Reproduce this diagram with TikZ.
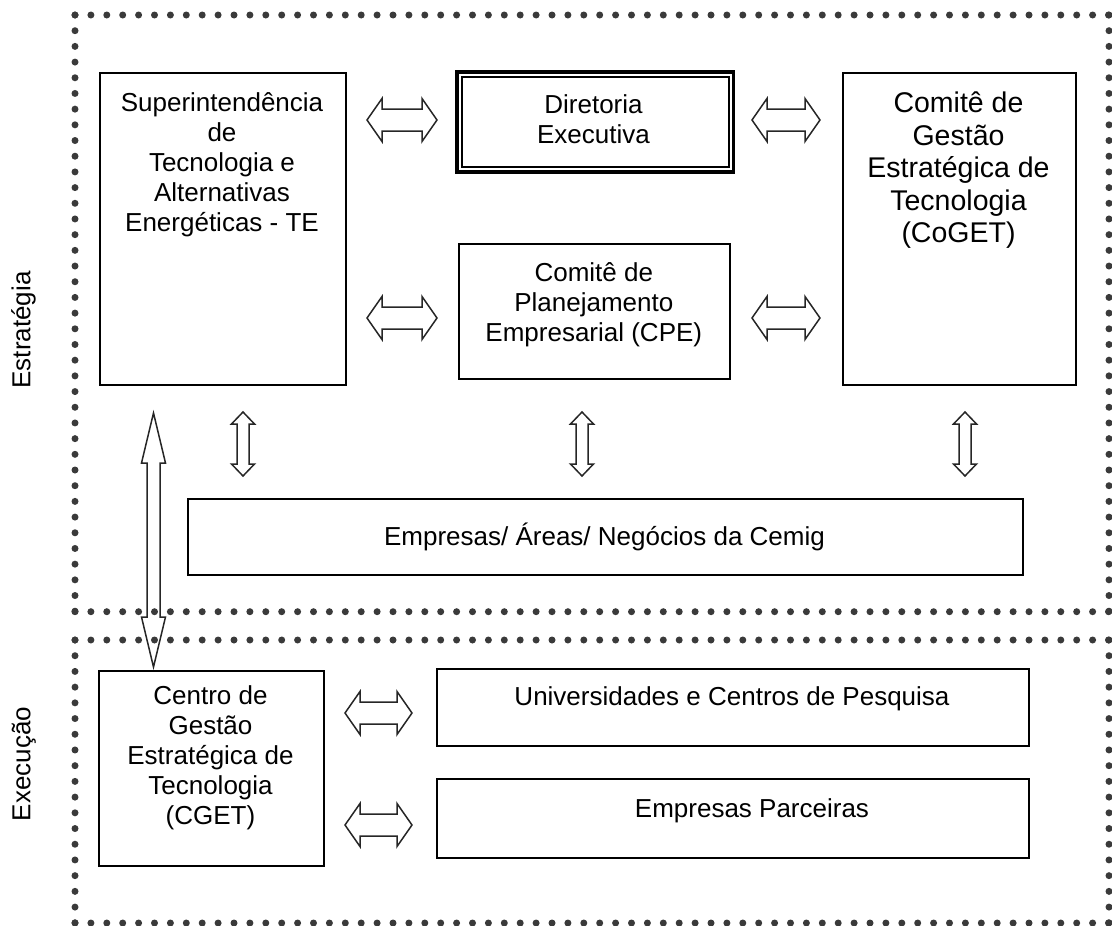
\documentclass[tikz,border=0pt]{standalone}
\usepackage{fontspec}
\setmainfont{Liberation Sans}
\usetikzlibrary{calc}
\definecolor{dotgray}{HTML}{3A3A3A}
\definecolor{arrowgray}{HTML}{262626}

\tikzset{
  box/.style={draw=black, line width=2pt, rectangle, inner sep=0pt, anchor=north west},
  txt/.style={align=center, inner sep=0pt, font=\fontsize{26}{30}\selectfont},
  bigtxt/.style={align=center, inner sep=0pt, font=\fontsize{28.5}{32.5}\selectfont},
  blockarrow/.style={draw=arrowgray, line width=1.5pt, line join=miter},
  dots/.style={draw=dotgray, line width=7pt, line cap=round, dash pattern=on 0pt off #1},
}

% vertical double block arrow: centre, half length, head length, half head width, half shaft width
\newcommand\vblock[5]{%
  \draw[blockarrow] ($(#1)+(0,-#2)$) -- ($(#1)+(#4,-#2+#3)$) -- ($(#1)+(#5,-#2+#3)$)
    -- ($(#1)+(#5,#2-#3)$) -- ($(#1)+(#4,#2-#3)$) -- ($(#1)+(0,#2)$)
    -- ($(#1)+(-#4,#2-#3)$) -- ($(#1)+(-#5,#2-#3)$) -- ($(#1)+(-#5,-#2+#3)$)
    -- ($(#1)+(-#4,-#2+#3)$) -- cycle;}
% horizontal double block arrow: same parameters, lying on its side
\newcommand\hblock[5]{%
  \draw[blockarrow] ($(#1)+(-#2,0)$) -- ($(#1)+(-#2+#3,-#4)$) -- ($(#1)+(-#2+#3,-#5)$)
    -- ($(#1)+(#2-#3,-#5)$) -- ($(#1)+(#2-#3,-#4)$) -- ($(#1)+(#2,0)$)
    -- ($(#1)+(#2-#3,#4)$) -- ($(#1)+(#2-#3,#5)$) -- ($(#1)+(-#2+#3,#5)$)
    -- ($(#1)+(-#2+#3,#4)$) -- cycle;}

\begin{document}
\begin{tikzpicture}[x=1pt, y=-1pt]
\useasboundingbox (0,0) rectangle (1112,926);

% dotted frames: strategy level (top) and execution level (bottom)
\draw[dots=15.9]  (75,15) -- (1109,15);
\draw[dots=15.9]  (75,611.7) -- (1109,611.7);
\draw[dots=15.69] (75,15) -- (75,611.7);
\draw[dots=15.69] (1109,15) -- (1109,611.7);
\draw[dots=15.9]  (75,640) -- (1109,640);
\draw[dots=15.9]  (75,923) -- (1109,923);
\draw[dots=15.71] (75,640) -- (75,923);
\draw[dots=15.71] (1109,640) -- (1109,923);

% side labels
\node[txt, rotate=90, anchor=base] (lblE) at (30.5,330) {Estratégia};
\node[txt, rotate=90, anchor=base] (lblX) at (30.5,764) {Execução};

% strategy boxes
\node[box, minimum width=246pt, minimum height=312pt] (sup) at (99,72) {};
\node[txt, anchor=north] (suptxt) at (222,92) {Superintendência\\de\\Tecnologia e\\Alternativas\\Energéticas - TE};

\node[box, line width=3.5pt, minimum width=276.5pt, minimum height=100pt] (dir) at (455.3,70) {};
\draw[line width=2pt] ($(dir.north west)+(6.5,6.5)$) rectangle ($(dir.south east)+(-6.5,-6.5)$);
\node[txt, anchor=north] (dirtxt) at (593.5,94) {Diretoria\\Executiva};

\node[box, minimum width=271pt, minimum height=135.3pt] (cpe) at (458.3,242.7) {};
\node[txt, anchor=north] (cpetxt) at (593.8,262) {Comitê de\\Planejamento\\Empresarial (CPE)};

\node[box, minimum width=233pt, minimum height=312pt] (coget) at (842,72) {};
\node[bigtxt, anchor=north] (cogettxt) at (958.5,92) {Comitê de\\Gestão\\Estratégica de\\Tecnologia\\(CoGET)};

\node[box, minimum width=835pt, minimum height=76pt] (emp) at (187,498) {};
\node[txt, anchor=base] (emptxt) at (604.5,545.3) {Empresas/ Áreas/ Negócios da Cemig};

% execution boxes
\node[box, minimum width=225pt, minimum height=195pt] (cget) at (98,670) {};
\node[txt, anchor=north] (cgettxt) at (210.5,685) {Centro de\\Gestão\\Estratégica de\\Tecnologia\\(CGET)};

\node[box, minimum width=592pt, minimum height=77pt] (uni) at (436,668) {};
\node[txt, anchor=base] (unitxt) at (732,705.3) {Universidades e Centros de Pesquisa};

\node[box, minimum width=592pt, minimum height=79pt] (parc) at (436,778) {};
\node[txt, anchor=base] (parctxt) at (752,817.3) {Empresas Parceiras};

% arrow centres between the boxes
\coordinate (aSD) at (402,120);
\coordinate (aDC) at (786,120);
\coordinate (aSP) at (402,318);
\coordinate (aPC) at (786,318);
\coordinate (vS) at (243,444);
\coordinate (vP) at (582,444);
\coordinate (vC) at (965,444);
\coordinate (aGU) at (378.5,713);
\coordinate (aGP) at (378.5,825);
\coordinate (longTop) at (153.5,413);
\coordinate (longBot) at (153.5,667);
\coordinate (longMid) at ($(longTop)!0.5!(longBot)$);

\hblock{aSD}{35}{15}{21.5}{11}
\hblock{aDC}{34}{15}{21.5}{11}
\hblock{aSP}{35}{15}{21.5}{11}
\hblock{aPC}{34}{15}{21.5}{11}
\vblock{vS}{32}{12}{11.5}{6}
\vblock{vP}{32}{12}{11.5}{6}
\vblock{vC}{32}{12}{11.5}{6}
\hblock{aGU}{33.5}{15}{21.5}{11}
\hblock{aGP}{33.5}{15}{21.5}{11}
\vblock{longMid}{127}{50}{12}{6.5}
\end{tikzpicture}
\end{document}
